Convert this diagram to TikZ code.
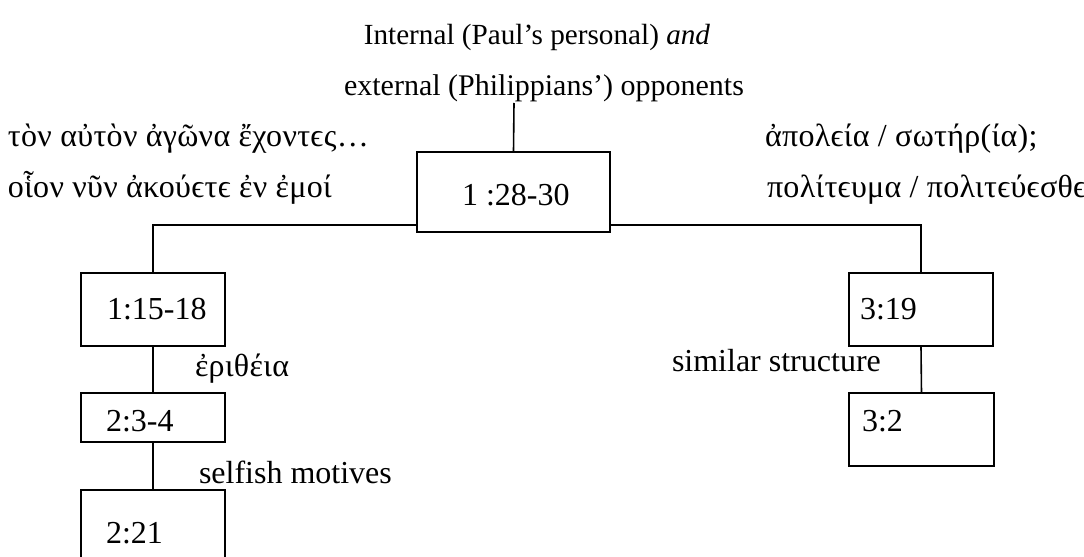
\documentclass[tikz,border=0pt]{standalone}
\usepackage{fontspec}
\setmainfont{Liberation Serif}
\newfontfamily\grk[LetterSpace=1.0]{Liberation Serif}
\begin{document}
\begin{tikzpicture}[x=0.5pt,y=-0.5pt,
  every node/.style={inner sep=0pt, outer sep=0pt},
  link/.style={line width=0.8pt},
  refbox/.style={draw, line width=0.8pt, anchor=north west},
  lat/.style={font=\fontsize{16}{19}\selectfont, anchor=base west},
  head/.style={font=\fontsize{15}{18}\selectfont, anchor=base},
  gr/.style={font=\grk\fontsize{16}{19}\selectfont, anchor=base west}]
\clip (0,0) rectangle (1084,557);

% heading above the central passage
\node[head, font=\fontsize{14.6}{18}\selectfont] (t1) at (537,45) {Internal (Paul’s personal) \textit{and}};
\node[head] (t2) at (544,96) {external (Philippians’) opponents};
\coordinate (stem) at (514,103);

% passage boxes
\node[refbox, minimum width=96.5pt, minimum height=40pt] (c) at (417,152) {};
\node[refbox, minimum width=72pt, minimum height=36.5pt] (b1) at (81,273) {};
\node[refbox, minimum width=72pt, minimum height=24.5pt] (b2) at (81,393) {};
\node[refbox, minimum width=72pt, minimum height=50pt] (b3) at (81,490) {};
\node[refbox, minimum width=72pt, minimum height=36.5pt] (r1) at (849,273) {};
\node[refbox, minimum width=72.5pt, minimum height=36.5pt] (r2) at (849,393) {};

% box labels
\node[lat] (ct) at (462,205) {1 :28-30};
\node[lat] (b1t) at (107,319) {1:15-18};
\node[lat] (b2t) at (106,431) {2:3-4};
\node[lat] (b3t) at (106,543) {2:21};
\node[lat] (r1t) at (860,319) {3:19};
\node[lat] (r2t) at (862,431) {3:2};

% connectors
\coordinate (bar) at (0,225);
\draw[link] (stem) -- (c.north);
\draw[link] (c.west |- bar) -| (b1.north);
\draw[link] (c.east |- bar) -| (r1.north);
\draw[link] (b1.south) -- (b2.north);
\draw[link] (b2.south) -- (b3.north);
\draw[link] (r1.south) -- (r2.north);

% Greek catchwords
\node[gr] (g1) at (8,146) {τὸν αὐτὸν ἀγῶνα ἔχοντϵς…};
\node[gr] (g2) at (8,197) {οἷον νῦν ἀκούϵτϵ ἐν ἐμοί};
\node[gr] (g3) at (765,146) {ἀπολϵία / σωτήρ(ία);};
\node[gr] (g4) at (767,197) {πολίτϵυμα / πολιτϵύϵσθϵ};
\node[gr] (g5) at (195,376) {ἐριθέια};

% link notes
\node[lat] (n1) at (672,371) {similar structure};
\node[lat] (n2) at (199,483) {selfish motives};
\end{tikzpicture}
\end{document}
